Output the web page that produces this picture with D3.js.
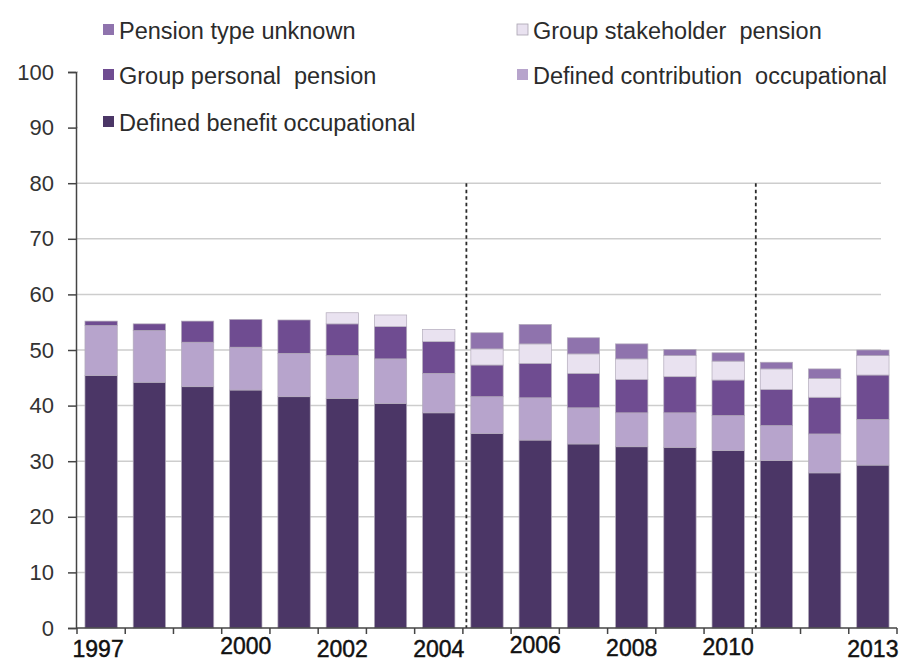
<!DOCTYPE html>
<html>
<head>
<meta charset="utf-8">
<script src="https://cdn.jsdelivr.net/npm/d3@7"></script>
<style>
  html, body { margin: 0; padding: 0; background: #fff; }
  svg { display: block; }
  text { font-family: "Liberation Sans", Arial, sans-serif; }
</style>
</head>
<body>
<svg id="chart" width="904" height="662"></svg>
<script>
// Share of employees with workplace pension, by pension type (%)
const years = ["1997","1998","1999","2000","2001","2002","2003","2004","2005",
               "2006","2007","2008","2009","2010","2011","2012","2013"];
const definedBenefit      = [45.4,44.2,43.4,42.8,41.6,41.3,40.4,38.7,35.0,33.8,33.1,32.6,32.5,31.9,30.1,27.9,29.3];
const definedContribution = [9.0,9.3,8.0,7.7,7.8,7.7,8.0,7.1,6.6,7.6,6.5,6.1,6.2,6.3,6.3,7.0,8.2];
const groupPersonal       = [0.8,1.2,3.8,5.0,6.0,5.7,5.8,5.7,5.7,6.2,6.2,6.0,6.5,6.4,6.5,6.6,8.0];
const groupStakeholder    = [0,0,0,0,0,2.0,2.1,2.2,2.9,3.5,3.5,3.7,3.8,3.4,3.7,3.4,3.5];
const typeUnknown         = [0,0,0,0,0,0,0,0,2.9,3.5,2.9,2.7,1.1,1.5,1.2,1.7,1.0];

const seriesKeys   = ["db","dc","gpp","gsp","unk"];
const seriesNames  = ["Defined benefit occupational","Defined contribution  occupational",
                      "Group personal  pension","Group stakeholder  pension","Pension type unknown"];
const seriesColors = ["#4b3666","#b7a4cc","#6f4c91","#e9e2f0","#8f73ad"];

const yTicks      = [0,10,20,30,40,50,60,70,80,90,100];
const yearLabels  = ["1997","2000","2002","2004","2006","2008","2010","2013"];
const breakAfter  = ["2004","2010"]; // survey method changes

const rows = years.map((yr, i) => ({
  year: yr, db: definedBenefit[i], dc: definedContribution[i], gpp: groupPersonal[i],
  gsp: groupStakeholder[i], unk: typeUnknown[i]
}));

const svg = d3.select("#chart");
const plotLeft = 77, plotRight = 897, plotTop = 72, plotBottom = 628;

const x = d3.scaleBand().domain(years).range([plotLeft, plotRight]).paddingInner(0.33).paddingOuter(0.165);
const y = d3.scaleLinear().domain([0, 100]).range([plotBottom, plotTop]);
const step = x.step();
const boundary = i => plotLeft + i * step;

// horizontal gridlines
svg.append("g").selectAll("line").data(yTicks.filter(t => t > 0)).join("line")
  .attr("x1", plotLeft).attr("x2", plotRight - 16)
  .attr("y1", d => y(d)).attr("y2", d => y(d))
  .attr("stroke", "#cdcdcd").attr("stroke-width", 1.5);

// stacked bars
const stack = d3.stack().keys(seriesKeys)(rows);
svg.append("g").selectAll("g").data(stack).join("g")
  .attr("fill", (d, i) => seriesColors[i])
  .selectAll("rect").data(d => d.filter(p => p[1] - p[0] > 0)).join("rect")
  .attr("x", d => x(d.data.year))
  .attr("width", x.bandwidth())
  .attr("y", d => y(d[1]))
  .attr("height", d => y(d[0]) - y(d[1]))
  .attr("stroke", "#b3abbb").attr("stroke-width", 0.7);

// dashed series-break lines
svg.append("g").selectAll("line").data(breakAfter).join("line")
  .attr("x1", d => boundary(years.indexOf(d) + 1) + 3.5)
  .attr("x2", d => boundary(years.indexOf(d) + 1) + 3.5)
  .attr("y1", y(80)).attr("y2", plotBottom)
  .attr("stroke", "#2a2a2a").attr("stroke-width", 1.8).attr("stroke-dasharray", "3.5,3");

// legend (white panel sits over the upper gridlines)
const legend = svg.append("g");
legend.append("rect").attr("x", plotLeft + 1).attr("y", 0).attr("width", 904 - plotLeft).attr("height", 150).attr("fill", "#fff");
const legendItems = [
  {k: 4, col: 0, row: 0}, {k: 3, col: 1, row: 0},
  {k: 2, col: 0, row: 1}, {k: 1, col: 1, row: 1},
  {k: 0, col: 0, row: 2}
];
const colX = [103, 517], rowY = [30, 75, 122];
const li = legend.selectAll("g.item").data(legendItems).join("g").attr("class", "item")
  .attr("transform", d => `translate(${colX[d.col]},${rowY[d.row]})`);
li.append("rect").attr("x", 0).attr("y", -6).attr("width", 11).attr("height", 11)
  .attr("fill", d => seriesColors[d.k])
  .attr("stroke", d => d.k === 3 ? "#a9a3b0" : "none").attr("stroke-width", 0.8);
li.append("text").attr("x", 16).attr("y", 8.5)
  .attr("font-size", 23.5).attr("fill", "#2b2b2b").style("white-space", "pre")
  .text(d => seriesNames[d.k]);

// y axis
const yAxis = svg.append("g").attr("transform", `translate(${plotLeft - 1},0)`)
  .call(d3.axisLeft(y).tickValues(yTicks).tickSize(8).tickPadding(14));
yAxis.select(".domain").attr("stroke", "#444").attr("stroke-width", 1.5);
yAxis.selectAll(".tick line").attr("stroke", "#444").attr("stroke-width", 1.5);
yAxis.selectAll(".tick text").attr("font-size", 22).attr("fill", "#333")
  .attr("font-family", "'Liberation Sans', Arial, sans-serif");

// x axis: line and ticks at category boundaries
const xAxisG = svg.append("g");
xAxisG.append("line").attr("x1", plotLeft).attr("x2", plotRight).attr("y1", plotBottom).attr("y2", plotBottom)
  .attr("stroke", "#444").attr("stroke-width", 1.5);
xAxisG.selectAll("line.tk").data(d3.range(years.length + 1)).join("line").attr("class", "tk")
  .attr("x1", d => boundary(d)).attr("x2", d => boundary(d))
  .attr("y1", plotBottom).attr("y2", plotBottom + 6)
  .attr("stroke", "#444").attr("stroke-width", 1.5);

// year labels, slightly staggered baselines
const labelBase = {"1997": 657, "2000": 654, "2002": 657, "2004": 657, "2006": 653, "2008": 656, "2010": 655, "2013": 657};
xAxisG.selectAll("text").data(yearLabels).join("text")
  .attr("x", d => x(d) + x.bandwidth() / 2 - (d === "1997" ? 3 : 0))
  .attr("y", d => labelBase[d])
  .attr("text-anchor", "middle").attr("font-size", 23)
  .attr("fill", "#111").attr("stroke", "#111").attr("stroke-width", 0.45)
  .text(d => d);
</script>
</body>
</html>
